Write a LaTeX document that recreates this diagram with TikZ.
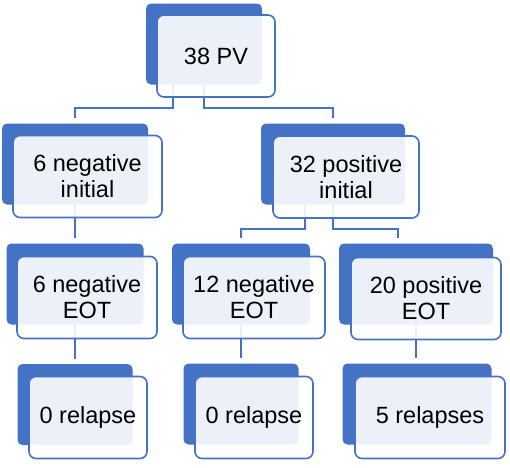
\documentclass[tikz,border=0pt]{standalone}
\usepackage{fontspec}
\setmainfont{Liberation Sans}
\usepackage{xcolor}
\usepackage{tikz}
\usetikzlibrary{positioning}
\definecolor{tblue}{RGB}{68,114,196}
\pgfdeclarelayer{background}
\pgfsetlayers{background,main}

\begin{document}
\begin{tikzpicture}[x=1pt,y=-1pt,
backbox/.style={fill=tblue,rounded corners=5pt,minimum height=81pt,inner sep=0pt},
frontbox/.style={draw=tblue,line width=1.6pt,fill=white,fill opacity=0.9,text opacity=1,
 rounded corners=7pt,minimum height=82pt,inner sep=0pt,align=center,
 font=\fontsize{23.5}{26}\selectfont},
conn/.style={draw=tblue,line width=1.9pt}]
\useasboundingbox(0,0)rectangle(510,467);
% top
\node[backbox,minimum width=116pt](rootb)at(204,44){};
\node[frontbox,minimum width=118pt](root)at(216,56){38 PV};
% second row
\node[backbox,minimum width=146pt](negib)at(75,164){};
\node[frontbox,minimum width=149pt](negi)at(87.5,176.5){6 negative\\initial};
\node[backbox,minimum width=144pt](posib)at(333,164){};
\node[frontbox,minimum width=146pt](posi)at(346,177){32 positive\\initial};
% third row
\node[backbox,minimum width=137pt](negeb)at(75,284){};
\node[frontbox,minimum width=140pt](nege)at(87,297.5){6 negative\\EOT};
\node[backbox,minimum width=138pt](negtb)at(241,284){};
\node[frontbox,minimum width=142pt](negt)at(254,297.5){12 negative\\EOT};
\node[backbox,minimum width=154pt](poseb)at(416,284){};
\node[frontbox,minimum width=150pt](pose)at(426,298.5){20 positive\\EOT};
% last row
\node[backbox,minimum width=115pt](relab)at(75,404.5){};
\node[frontbox,minimum width=118pt](rela)at(88,417.5){0 relapse};
\node[backbox,minimum width=115pt](relbb)at(241,404){};
\node[frontbox,minimum width=118pt](relb)at(254,417.5){0 relapse};
\node[backbox,minimum width=149pt](relcb)at(417,404){};
\node[frontbox,minimum width=150pt](relc)at(430,417.5){5 relapses};
% connectors
\begin{pgfonlayer}{background}
\draw[conn]([xshift=-31pt]rootb.south)--++(0,23)-|([yshift=5pt]negib.north);
\draw[conn](rootb.south)--++(0,23)-|([yshift=5pt]posib.north);
\draw[conn](negib.south)--([yshift=5pt]negib.south|-negeb.north);
\draw[conn]([xshift=-28pt]posib.south)--++(0,24)-|([yshift=5pt]negtb.north);
\draw[conn](posib.south)--++(0,24)-|([xshift=-18pt,yshift=5pt]poseb.north);
\draw[conn](negeb.south)--([yshift=5pt]negeb.south|-relab.north);
\draw[conn](negtb.south)--([yshift=5pt]negtb.south|-relbb.north);
\draw[conn](poseb.south)--([yshift=5pt]poseb.south|-relcb.north);
\end{pgfonlayer}
\end{tikzpicture}
\end{document}
